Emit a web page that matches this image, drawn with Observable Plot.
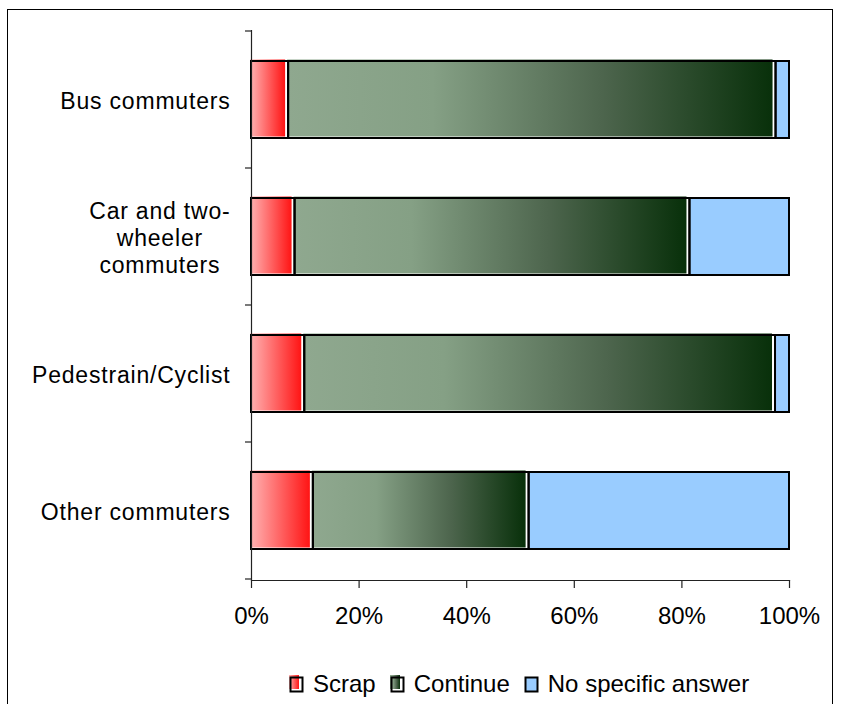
<!DOCTYPE html>
<html><head><meta charset="utf-8">
<script src="https://cdn.jsdelivr.net/npm/d3@7"></script>
<script src="https://cdn.jsdelivr.net/npm/@observablehq/plot@0.6"></script>
<style>
html,body{margin:0;padding:0;background:#fff;}
#frame{position:absolute;left:7px;top:9px;width:826px;height:720px;border:1px solid #000;box-sizing:border-box;}
#chart{position:absolute;left:0;top:0;}
#legend{position:absolute;top:671px;left:289px;display:flex;align-items:center;font-family:"Liberation Sans",Arial,sans-serif;font-size:24px;line-height:26px;color:#000;white-space:nowrap;}
#legend .item{display:flex;align-items:center;margin-right:14px;}
#legend svg{margin-right:9px;}
</style></head>
<body>
<svg width="0" height="0" style="position:absolute">
  <defs>
    <linearGradient id="gScrap" x1="0" x2="1" y1="0" y2="0">
      <stop offset="0" stop-color="#ffb4b4"/>
      <stop offset="1" stop-color="#ff1414"/>
    </linearGradient>
    <linearGradient id="gCont" x1="0" x2="1" y1="0" y2="0">
      <stop offset="0" stop-color="#8fa88f"/>
      <stop offset="0.3" stop-color="#85a085"/>
      <stop offset="0.65" stop-color="#4d654d"/>
      <stop offset="1" stop-color="#08300a"/>
    </linearGradient>
  </defs>
</svg>
<div id="frame"></div>
<div id="chart"></div>
<div id="legend"></div>
<script>
const categories = ["Bus commuters", "Car and two-wheeler commuters", "Pedestrain/Cyclist", "Other commuters"];
const categoryLabels = ["Bus commuters", "Car and two-\nwheeler\ncommuters", "Pedestrain/Cyclist", "Other commuters"];
const seriesNames = ["Scrap", "Continue", "No specific answer"];
const scrap = [6.9, 8.1, 9.9, 11.5];
const cont = [90.6, 73.4, 87.5, 40.1];
const none = [2.5, 18.5, 2.6, 48.4];
const xTicks = [0, 20, 40, 60, 80, 100];
const seriesFills = ["url(#gScrap)", "url(#gCont)", "#99ccff"];

const rows = categories.flatMap((c, i) => {
  const v = [scrap[i], cont[i], none[i]];
  let acc = 0;
  return seriesNames.map((s, j) => { const x1 = acc; acc += v[j]; return {cat: c, series: s, x1, x2: acc}; });
});
const bySeries = s => rows.filter(r => r.series === s);
const labelOf = c => categoryLabels[categories.indexOf(c)];

function boundaryTicks(index, scales, values, dims) {
  const y = scales.y;
  const bw = typeof y.bandwidth === "function" ? y.bandwidth() : y.bandwidth;
  const step = typeof y.step === "function" ? y.step() : (y(categories[1]) - y(categories[0]));
  const gap = (step - bw) / 2;
  const ys = categories.map(c => y(c) - gap);
  ys.push(y(categories[categories.length - 1]) + bw + gap);
  const g = d3.create("svg:g").attr("stroke", "#222").attr("stroke-width", 1.2);
  for (const yy of ys) {
    g.append("line").attr("x1", dims.marginLeft - 6).attr("x2", dims.marginLeft).attr("y1", yy).attr("y2", yy);
  }
  return g.node();
}

const plot = Plot.plot({
  width: 846,
  height: 640,
  marginLeft: 251,
  marginRight: 57,
  marginTop: 30,
  marginBottom: 60,
  style: {fontFamily: "'Liberation Sans', Arial, sans-serif", color: "#000", background: "transparent"},
  x: {domain: [0, 100]},
  y: {domain: categories, paddingInner: 0.44, paddingOuter: 0.22},
  marks: [
    Plot.barX(bySeries("Scrap"), {x1: "x1", x2: "x2", y: "cat", fill: seriesFills[0], dx: -1, dy: -1.5, insetRight: 2}),
    Plot.barX(bySeries("Continue"), {x1: "x1", x2: "x2", y: "cat", fill: seriesFills[1], dx: -1, dy: -1.5, insetRight: 2}),
    Plot.barX(bySeries("No specific answer"), {x1: "x1", x2: "x2", y: "cat", fill: seriesFills[2]}),
    Plot.barX(rows, {x1: "x1", x2: "x2", y: "cat", fill: "none", stroke: "#000", strokeWidth: 2}),
    Plot.ruleX([0], {stroke: "#222", strokeWidth: 1.2}),
    Plot.frame({anchor: "bottom", stroke: "#222", strokeWidth: 1.2}),
    Plot.axisX({ticks: xTicks, tickFormat: d => d + "%", tickSize: 8, tickPadding: 18, fontSize: 24, stroke: "#222", strokeWidth: 1.2, label: null}),
    Plot.axisY({tickSize: 0, tickPadding: 21, tickFormat: labelOf, fontSize: 23, lineHeight: 1.18, label: null}),
    boundaryTicks
  ]
});
document.getElementById("chart").appendChild(plot);

// letter spacing like the original rendering, and centre the wrapped label lines
d3.select(plot).selectAll('g[aria-label="y-axis tick label"] text')
  .attr("letter-spacing", "0.8px")
  .each(function() {
    const tspans = this.querySelectorAll("tspan");
    if (tspans.length > 1) {
      const w = this.getBBox().width;
      this.setAttribute("text-anchor", "middle");
      tspans.forEach(t => t.setAttribute("x", -w / 2));
    }
  });

// legend
const legend = d3.select("#legend");
seriesNames.forEach((s, i) => {
  const item = legend.append("div").attr("class", "item");
  const sw = item.append("svg").attr("width", 15).attr("height", 18);
  if (i < 2) {
    sw.append("rect").attr("x", 0).attr("y", 0).attr("width", 10).attr("height", 14).attr("fill", seriesFills[i]);
    sw.append("rect").attr("x", 1.5).attr("y", 2.5).attr("width", 12).attr("height", 14).attr("fill", "none").attr("stroke", "#000").attr("stroke-width", 2);
  } else {
    sw.append("rect").attr("x", 1.5).attr("y", 2.5).attr("width", 12).attr("height", 14).attr("fill", seriesFills[i]).attr("stroke", "#000").attr("stroke-width", 2);
  }
  item.append("span").text(s);
});
</script>
</body></html>
